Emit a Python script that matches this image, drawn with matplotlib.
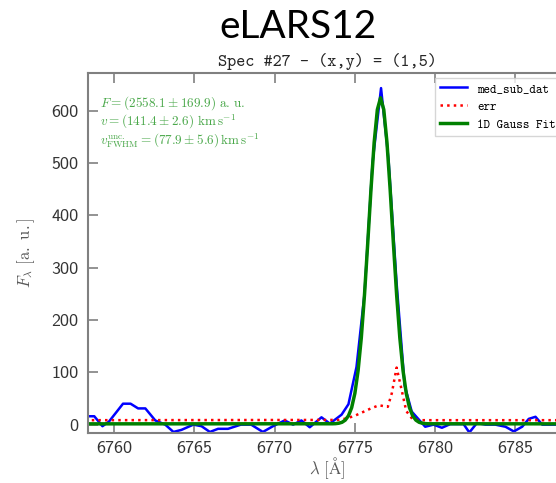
import numpy as np
import matplotlib
matplotlib.use("Agg")
import matplotlib.pyplot as plt

plt.rcParams["mathtext.fontset"] = "cm"
plt.rcParams["axes.unicode_minus"] = False

# spectrum (wavelength in Angstrom, flux in a.u.)
wave_dat = [6758.2, 6758.77, 6759.28, 6759.69, 6760.56, 6761.03, 6761.5, 6761.95,
            6762.57, 6763.19, 6763.7, 6764.2, 6764.94, 6765.45, 6765.97, 6766.48,
            6767.1, 6767.9, 6768.54, 6769.27, 6769.9, 6770.63, 6771.15, 6771.67,
            6772.19, 6772.92, 6773.44, 6774.17, 6774.6, 6775.1, 6775.6, 6776.1,
            6776.63, 6777.1, 6777.6, 6778.1, 6778.54, 6779.38, 6779.9, 6780.42,
            6780.94, 6781.46, 6781.77, 6782.13, 6782.6, 6783.13, 6783.75, 6784.38,
            6784.9, 6785.42, 6785.83, 6786.25, 6786.67, 6787.3, 6788.3]
flux_dat = [16, 16, -3, 6, 40, 40, 31, 31,
            8, 0, -14, -10, 0, -3, -14, -8,
            -8, 0, 0, -14, -3, 8, 0, 8,
            -5, 14, 2, 19, 39, 110, 250, 500,
            643, 505, 270, 75, 25, -4, 0, -6,
            1, 1, 1, -15, 3, 0, 0, -4,
            -13, -4, 11, 15, 0, 0, 0]

wave_err = [6758.2, 6774.0, 6774.5, 6775.0, 6775.5, 6776.0, 6776.5, 6777.05,
            6777.3, 6777.6, 6777.9, 6778.2, 6778.6, 6779.0, 6788.3]
flux_err = [8.5, 9, 12, 17, 24, 31, 37, 34,
            60, 109, 68, 26, 10, 8.5, 8.5]

wave_fit = [6758.2, 6773.6, 6773.8, 6774.0, 6774.2, 6774.4, 6774.6, 6774.8,
            6775.0, 6775.2, 6775.4, 6775.6, 6775.8, 6776.0, 6776.2, 6776.4,
            6776.6, 6776.8, 6777.0, 6777.2, 6777.4, 6777.6, 6777.8, 6778.0,
            6778.2, 6778.4, 6778.6, 6778.8, 6779.0, 6779.2, 6779.4, 6779.6, 6788.3]
flux_fit = [1.5, 1.65, 1.9, 2.7, 4.5, 8.6, 16.9, 32.5,
            59.8, 103.1, 165.8, 248.4, 346, 447.9, 538.8, 601.9,
            624.5, 601.9, 538.8, 447.9, 346, 248.4, 165.8, 103.1,
            59.8, 32.5, 16.9, 8.6, 4.5, 2.7, 1.9, 1.65, 1.5]

fit_text = [r"$F = (2558.1 \pm 169.9)\ \mathrm{a.\,u.}$",
            r"$v = (141.4 \pm 2.6)\ \mathrm{km\,s^{-1}}$",
            r"$v_{\mathrm{FWHM}}^{\mathrm{unc.}} = (77.9 \pm 5.6)\,\mathrm{km\,s^{-1}}$"]

fig = plt.figure(figsize=(5.56, 4.83), dpi=100)
ax = fig.add_axes([0.1583, 0.1035, 0.860, 0.7455])

ax.plot(wave_dat, flux_dat, color="b", lw=1.8, label="med_sub_dat")
ax.plot(wave_err, flux_err, color="r", ls=":", lw=1.8, label="err")
ax.plot(wave_fit, flux_fit, color="g", lw=2.5, label="1D Gauss Fit")

ax.set_xlim(6758.38, 6788.16)
ax.set_ylim(-16, 672)
ax.set_xticks([6760, 6765, 6770, 6775, 6780, 6785])
ax.set_yticks([0, 100, 200, 300, 400, 500, 600])

for sp in ax.spines.values():
    sp.set_color("0.5")
    sp.set_linewidth(1.5)
ax.tick_params(direction="in", length=7, width=1.2, color="0.5",
               top=True, right=True, labelsize=13, labelcolor="0.2", pad=7)
ax.tick_params(axis="x", pad=6)
for lab in ax.get_xticklabels() + ax.get_yticklabels():
    lab.set_family("cmss10")

ax.set_xlabel(r"$\lambda\ [\mathrm{\AA}]$", fontsize=12, color="0.35", labelpad=-1)
ax.set_ylabel(r"$F_\lambda\ [\mathrm{a.\ u.}]$", fontsize=12, color="0.35", labelpad=10)
ax.set_title("Spec #27 - (x,y) = (1,5)", family="cmtt10", fontsize=12.5,
             color="0.15", pad=5)

for i, line in enumerate(fit_text):
    ax.text(0.025, 0.915 - i * 0.052, line, transform=ax.transAxes,
            color="#4aa84a", fontsize=9.5, va="center", ha="left")

leg = ax.legend(loc="upper right", prop={"family": "cmtt10", "size": 9},
                handlelength=2.2, borderaxespad=0.4, fancybox=False)
leg.get_frame().set_edgecolor("0.8")

fig.text(0.536, 0.945, "eLARS12", family="Lato", fontsize=28,
         ha="center", va="center", color="black")

fig.savefig("out.png", dpi=100)
